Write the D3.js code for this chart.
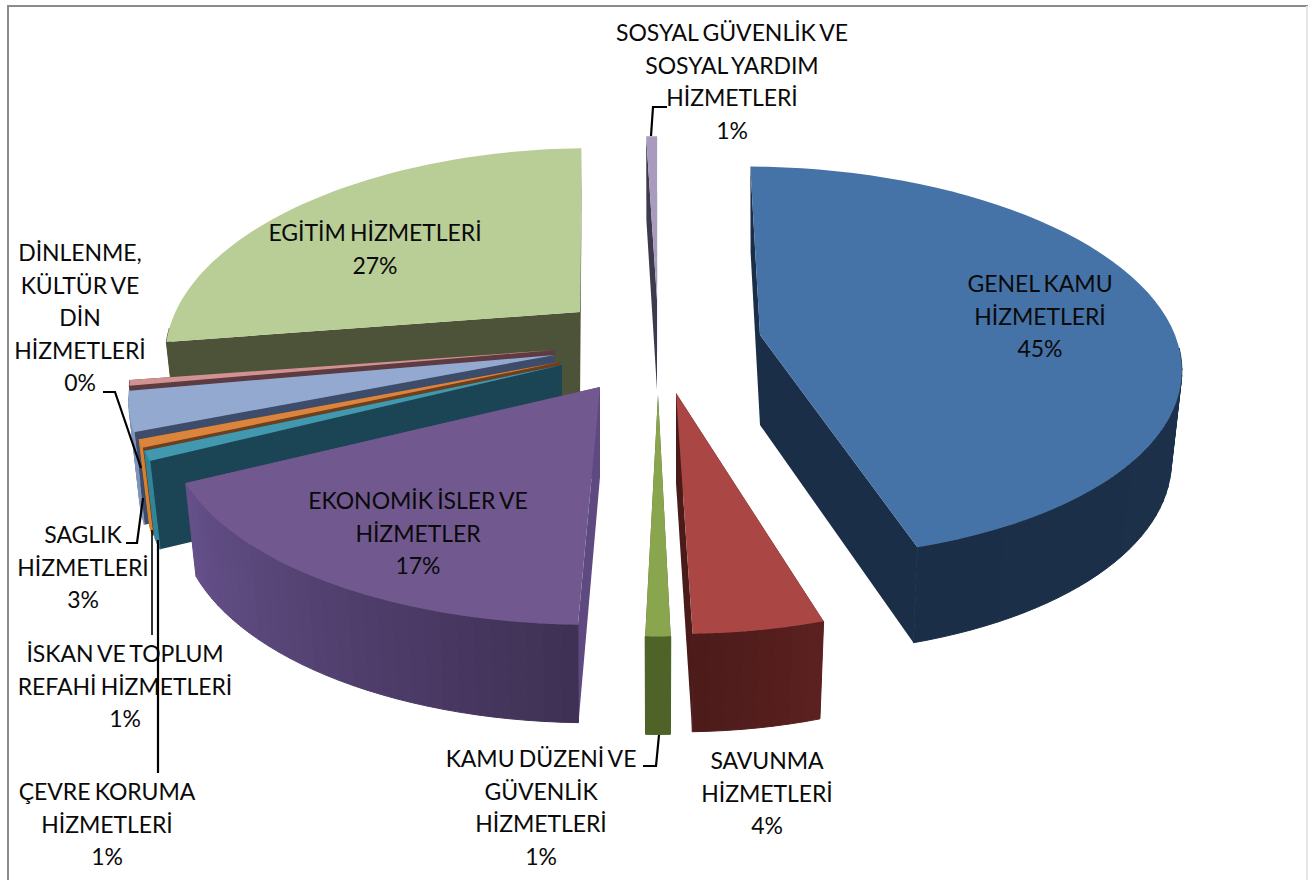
<!DOCTYPE html>
<html><head><meta charset="utf-8">
<style>html,body{margin:0;padding:0;background:#fff}svg{display:block}text{font-family:Lato,"Open Sans",sans-serif;fill:#0a0a0a;letter-spacing:-0.05px;word-spacing:-1.5px}</style>
<script src="https://cdnjs.cloudflare.com/ajax/libs/d3/7.8.5/d3.min.js"></script>
</head><body><svg id="c" width="1308" height="880"></svg>
<script>
// ---- data ----
const categories = ["GENEL KAMU HİZMETLERİ","SAVUNMA HİZMETLERİ","KAMU DÜZENİ VE GÜVENLİK HİZMETLERİ","EKONOMİK İSLER VE HİZMETLER","ÇEVRE KORUMA HİZMETLERİ","İSKAN VE TOPLUM REFAHİ HİZMETLERİ","SAGLIK HİZMETLERİ","DİNLENME, KÜLTÜR VE DİN HİZMETLERİ","EGİTİM HİZMETLERİ","SOSYAL GÜVENLİK VE SOSYAL YARDIM HİZMETLERİ"];
const values = [45.1,4.28,0.8,17.1,0.8,0.65,3.2,0.45,26.9,0.5];
const percentLabels = ["45%","4%","1%","17%","1%","1%","3%","0%","27%","1%"];
const labelLines = [["GENEL KAMU","HİZMETLERİ"],["SAVUNMA","HİZMETLERİ"],["KAMU DÜZENİ VE","GÜVENLİK","HİZMETLERİ"],["EKONOMİK İSLER VE","HİZMETLER"],["ÇEVRE KORUMA","HİZMETLERİ"],["İSKAN VE TOPLUM","REFAHİ HİZMETLERİ"],["SAGLIK","HİZMETLERİ"],["DİNLENME,","KÜLTÜR VE","DİN","HİZMETLERİ"],["EGİTİM HİZMETLERİ"],["SOSYAL GÜVENLİK VE","SOSYAL YARDIM","HİZMETLERİ"]];

// ---- layout & style ----
const W=1308,H=880,R=415,LEAN=0.975;
const apex=[[760,335],[676,393],[658,395],[600,387],[562,365],[560,362],[555,355],[555,350],[580,312],[657,300]];
const rScale=[1.0,0.985,1,1.018,1,1,1,1,0.975,1];
const kVal=[192,196.5,197,194,194,194,194,194,194,194];
const persp=[0.14,0.184,0.184,0.184,0.184,0.184,0.184,0.184,0.184,0.184];
const vanish=[640,658,658,640,658,658,658,658,658,658];
const depthAdj=[0,0,0,0,-5,-5,0,0,0,0];
const topCol=["#4572a7","#aa4643","#89a54e","#71588f","#4198af","#db843d","#93a9cf","#d19392","#b9cd96","#a99bbd"];
const faceCol=["#1b2e47","#4a1b19","#4f6228","#5e4a80","#1b4555","#6e3f1c","#3c4c6a","#5d3b40","#4c5339","#3e3a4d"];
const wallFrom=["#1f3552","#5a2120","#4f6228","#3f3155","#31869b","#d9822f","#8598bf","#5d3b40","#4c5339","#3e3a4d"];
const wallTo=["#1b2e47","#4c1b1a","#4f6228","#65508a","#31869b","#d9822f","#7f93b8","#5d3b40","#4c5339","#3e3a4d"];
const labelAnchor=[[1040,292],[767,769],[541,767],[418,509],[107,800],[125,662],[83,543],[80,261],[375,241],[732,41]];
const leaders=[[[667,107],[653,107],[651,136]],[[103,392],[115,392],[141,468]],[[126,543],[137,543],[143,498]],[[152,530],[152,635]],[[158,540],[158,773]],[[659,735],[656,766],[643,766]]];
const FONT=23, LH=32.6;

const svg=d3.select("#c");
svg.append("rect").attr("width",W).attr("height",H).attr("fill","#fff");
svg.append("path").attr("d",`M8 ${H}V6H${W}`).attr("fill","none").attr("stroke","#8c8c8c").attr("stroke-width",2);
svg.append("line").attr("x1",W-1).attr("x2",W-1).attr("y1",6).attr("y2",H).attr("stroke","#e6e6e6").attr("stroke-width",2);

const rad=d=>d*Math.PI/180;
const pie=d3.pie().sort(null).value(d=>d).startAngle(rad(0.8)).endAngle(rad(360));
const arcs=pie(values);
const line=d3.line();

const sc=(i,t)=>1/(1+persp[i]*Math.cos(t));
function topPt(i,t){const [ax,ay]=apex[i],s=sc(i,t);
  return [ax+(s-1)*(ax-vanish[i])+R*rScale[i]*s*Math.sin(t), ay-kVal[i]*s*Math.cos(t)];}
function botPt(i,t){const [ax]=apex[i],p=topPt(i,t),s=sc(i,t);
  return [ax+(p[0]-ax)*LEAN, p[1]+90+depthAdj[i]+8*(s-1)/0.225];}
const apexBot=i=>[apex[i][0],apex[i][1]+90];
const poly=pts=>line(pts)+"Z";

const order=[9,8,7,6,5,4,3,0,1,2];
order.forEach(i=>{
  const a=arcs[i],g=svg.append("g").attr("class","slice"),t0=a.startAngle,t1=a.endAngle;
  const face=t=>poly([apex[i],topPt(i,t),botPt(i,t),apexBot(i)]);
  g.append("path").attr("d",face(t1)).attr("fill",faceCol[i]);
  g.append("path").attr("d",face(t0)).attr("fill",faceCol[i]);
  const n=Math.max(2,Math.ceil((t1-t0)/rad(2)));
  const col=d3.scaleLinear().domain([0,n-1]).range([wallFrom[i],wallTo[i]]);
  const ang=d3.scaleLinear().domain([0,n]).range([t0,t1]);
  d3.range(n).forEach(k=>{
    const u=ang(k),v=ang(k+1);
    if(Math.cos((u+v)/2)>-0.08) return;
    g.append("path").attr("d",poly([topPt(i,u),topPt(i,v),botPt(i,v),botPt(i,u)]))
      .attr("fill",col(k)).attr("stroke",col(k)).attr("stroke-width",1).attr("stroke-linejoin","round");
  });
  const rim=d3.range(0,61).map(k=>topPt(i,t0+(t1-t0)*k/60));
  g.append("path").attr("d",poly([apex[i],...rim])).attr("fill",topCol[i]);
});

categories.forEach((c,i)=>{
  const [x,y]=labelAnchor[i];
  const t=svg.append("text").attr("text-anchor","middle").attr("font-size",FONT);
  [...labelLines[i],percentLabels[i]].forEach((s,k)=>t.append("tspan").attr("x",x).attr("y",y+k*LH).text(s));
});
leaders.forEach((l,i)=>svg.append("path").attr("d",line(l)).attr("fill","none").attr("stroke","#000").attr("stroke-width",i==3?1.6:2.2));
</script></body></html>
